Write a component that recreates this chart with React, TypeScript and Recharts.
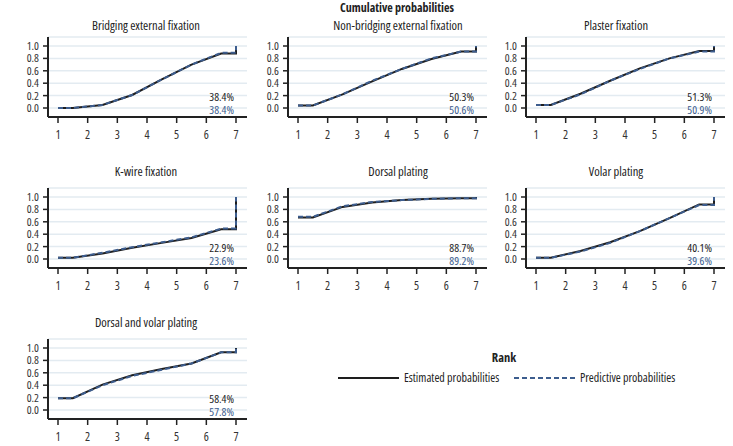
import React from 'react';
import { LineChart, Line, XAxis, YAxis, CartesianGrid } from 'recharts';

const FONT = '"Open Sans", "Liberation Sans", sans-serif';

// rank positions used for plotting (flat start, mid-rank steps, jump at 7)
const rankTicks = [1, 2, 3, 4, 5, 6, 7];
const yTicks = [0, 0.2, 0.4, 0.6, 0.8, 1.0];

const treatments = [
  'Bridging external fixation',
  'Non-bridging external fixation',
  'Plaster fixation',
  'K-wire fixation',
  'Dorsal plating',
  'Volar plating',
  'Dorsal and volar plating',
];

// cumulative probabilities for ranks 1..6 (rank 7 is always 1.0)
const bridgingEst = [0.0, 0.05, 0.21, 0.46, 0.70, 0.88];
const bridgingPred = [0.0, 0.05, 0.21, 0.46, 0.70, 0.89];
const nonBridgingEst = [0.04, 0.22, 0.43, 0.63, 0.79, 0.91];
const nonBridgingPred = [0.04, 0.22, 0.44, 0.63, 0.80, 0.91];
const plasterEst = [0.05, 0.23, 0.44, 0.64, 0.80, 0.92];
const plasterPred = [0.05, 0.22, 0.44, 0.63, 0.80, 0.91];
const kwireEst = [0.02, 0.09, 0.18, 0.26, 0.34, 0.48];
const kwirePred = [0.02, 0.10, 0.19, 0.27, 0.35, 0.49];
const dorsalEst = [0.67, 0.84, 0.91, 0.95, 0.97, 0.98];
const dorsalPred = [0.68, 0.85, 0.92, 0.95, 0.97, 0.98];
const volarEst = [0.02, 0.13, 0.27, 0.45, 0.66, 0.88];
const volarPred = [0.02, 0.12, 0.26, 0.45, 0.66, 0.87];
const dorsalVolarEst = [0.19, 0.41, 0.56, 0.66, 0.75, 0.93];
const dorsalVolarPred = [0.19, 0.40, 0.55, 0.65, 0.75, 0.93];

const estimated = [bridgingEst, nonBridgingEst, plasterEst, kwireEst, dorsalEst, volarEst, dorsalVolarEst];
const predictive = [bridgingPred, nonBridgingPred, plasterPred, kwirePred, dorsalPred, volarPred, dorsalVolarPred];

const sucraEst = ['38.4%', '50.3%', '51.3%', '22.9%', '88.7%', '40.1%', '58.4%'];
const sucraPred = ['38.4%', '50.6%', '50.9%', '23.6%', '89.2%', '39.6%', '57.8%'];

const EST_COLOR = '#1e1e1e';
const PRED_COLOR = '#3d5d8e';

function buildRows(est: number[], pred: number[]) {
  const rows = [{ x: 1, est: est[0], pred: pred[0] }];
  est.forEach((v, i) => rows.push({ x: i + 1.5, est: v, pred: pred[i] }));
  rows.push({ x: 7, est: est[5], pred: pred[5] });
  rows.push({ x: 7, est: 1, pred: 1 });
  return rows;
}

const colX = [0, 240, 478];
const rowY = [0, 151, 302];
const titleCx = [146, 398, 616];
const titleCy = [25.5, 172, 323];

const Panel = ({ idx }: { idx: number }) => {
  const col = idx % 3;
  const row = Math.floor(idx / 3);
  const ox = colX[col];
  const oy = rowY[row];
  const data = buildRows(estimated[idx], predictive[idx]);
  return (
    <>
      <div
        style={{
          position: 'absolute', left: titleCx[col] - 100, top: titleCy[row] - 8, width: 200,
          textAlign: 'center', fontSize: 12.5, lineHeight: '16px', color: '#222',
        }}
      >
        {treatments[idx]}
      </div>
      <div style={{ position: 'absolute', left: ox, top: oy }}>
        <LineChart width={250} height={150} data={data} margin={{ top: 37, right: 3, left: 8, bottom: 0 }}>
          <CartesianGrid vertical={false} stroke="#e3ebf1" strokeWidth={1.5} />
          <XAxis
            type="number"
            dataKey="x"
            domain={[1, 7]}
            ticks={rankTicks}
            interval={0}
            padding={{ left: 10, right: 11 }}
            height={33}
            axisLine={{ stroke: '#222', strokeWidth: 2 }}
            tickLine={{ stroke: '#222', strokeWidth: 1.5 }}
            tickSize={6}
            tickMargin={7}
            tick={{ fontSize: 12, fill: '#333' }}
          />
          <YAxis
            type="number"
            domain={[0, 1]}
            ticks={yTicks}
            interval={0}
            padding={{ top: 9, bottom: 9 }}
            width={40}
            tickFormatter={(v: number) => v.toFixed(1)}
            axisLine={{ stroke: '#222', strokeWidth: 2 }}
            tickLine={{ stroke: '#222', strokeWidth: 1.5 }}
            tickSize={5}
            tickMargin={4}
            tick={{ fontSize: 11.5, fill: '#333' }}
          />
          <Line type="linear" dataKey="est" stroke={EST_COLOR} strokeWidth={2} dot={false} isAnimationActive={false} />
          <Line
            type="linear"
            dataKey="pred"
            stroke={PRED_COLOR}
            strokeWidth={2}
            strokeDasharray="5 3"
            dot={false}
            isAnimationActive={false}
          />
        </LineChart>
      </div>
      <div
        style={{
          position: 'absolute', left: ox + 234 - 60, top: oy + 97 - 6, width: 60,
          textAlign: 'right', fontSize: 11.5, lineHeight: '12px', color: '#222',
        }}
      >
        {sucraEst[idx]}
      </div>
      <div
        style={{
          position: 'absolute', left: ox + 234 - 60, top: oy + 109.5 - 6, width: 60,
          textAlign: 'right', fontSize: 11.5, lineHeight: '12px', color: PRED_COLOR,
        }}
      >
        {sucraPred[idx]}
      </div>
    </>
  );
};

export default function App() {
  return (
    <div
      style={{
        position: 'absolute', left: 0, top: 0, width: 733, height: 446,
        background: '#fff', fontFamily: FONT, fontStretch: '75%', overflow: 'hidden',
      }}
    >
      <div
        style={{
          position: 'absolute', left: 297, top: 0, width: 200, textAlign: 'center',
          fontSize: 12, fontWeight: 'bold', lineHeight: '16px', color: '#222',
        }}
      >
        Cumulative probabilities
      </div>
      {treatments.map((_, i) => (
        <Panel key={i} idx={i} />
      ))}
      <div
        style={{
          position: 'absolute', left: 454, top: 350, width: 100, textAlign: 'center',
          fontSize: 12.5, fontWeight: 'bold', lineHeight: '16px', color: '#222',
        }}
      >
        Rank
      </div>
      <svg style={{ position: 'absolute', left: 0, top: 370 }} width={733} height={16}>
        <line x1={338} x2={399} y1={8} y2={8} stroke={EST_COLOR} strokeWidth={2} />
        <line x1={514} x2={576} y1={8} y2={8} stroke={PRED_COLOR} strokeWidth={2} strokeDasharray="5 3" />
      </svg>
      <div style={{ position: 'absolute', left: 404, top: 370, fontSize: 12, lineHeight: '16px', color: '#222' }}>
        Estimated probabilities
      </div>
      <div style={{ position: 'absolute', left: 580, top: 370, fontSize: 12, lineHeight: '16px', color: '#222' }}>
        Predictive probabilities
      </div>
    </div>
  );
}
